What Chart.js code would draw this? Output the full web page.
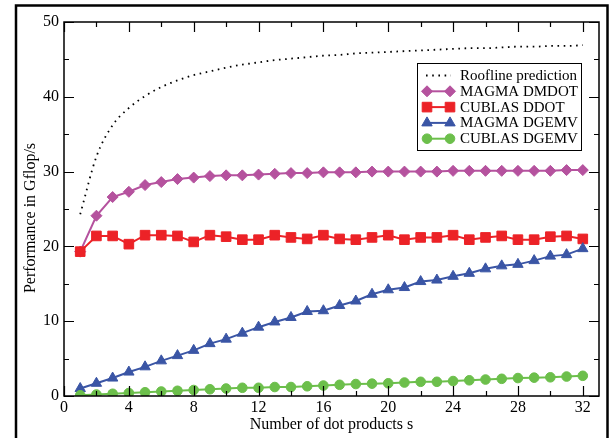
<!DOCTYPE html>
<html>
<head>
<meta charset="utf-8">
<script src="https://cdn.jsdelivr.net/npm/chart.js@4.4.0/dist/chart.umd.min.js"></script>
<style>
    body { margin: 0; background: #fff; }
    #wrap { width: 611px; height: 438px; }
</style>
</head>
<body>
<div id="wrap"><canvas id="perfChart" width="611" height="438"></canvas></div>
<script>
// --- DATA ---
const sCounts = [1, 2, 3, 4, 5, 6, 7, 8, 9, 10, 11, 12, 13, 14, 15, 16,
    17, 18, 19, 20, 21, 22, 23, 24, 25, 26, 27, 28, 29, 30, 31, 32];
const rooflinePerf = [24.3, 32.0, 36.2, 38.5, 40.1, 41.3, 42.2, 42.9, 43.4, 43.9, 44.3, 44.6, 44.9, 45.1, 45.3, 45.5,
    45.6, 45.8, 45.9, 46.0, 46.1, 46.2, 46.3, 46.4, 46.5, 46.5, 46.6, 46.7, 46.7, 46.8, 46.8, 46.9];
const magmaDmdot = [19.3, 24.1, 26.6, 27.3, 28.2, 28.6, 29.0, 29.2, 29.4, 29.5, 29.5, 29.6, 29.7, 29.8, 29.8, 29.9,
    29.9, 29.9, 30.0, 30.0, 30.0, 30.0, 30.0, 30.1, 30.1, 30.1, 30.1, 30.1, 30.1, 30.1, 30.2, 30.2];
const cublasDdot = [19.3, 21.4, 21.4, 20.3, 21.5, 21.5, 21.4, 20.6, 21.5, 21.3, 20.9, 20.9, 21.5, 21.2, 21.0, 21.5,
    21.0, 20.9, 21.2, 21.5, 20.9, 21.2, 21.2, 21.5, 20.9, 21.2, 21.4, 20.9, 20.9, 21.3, 21.4, 21.0];
const magmaDgemv = [1.0, 1.7, 2.4, 3.2, 3.9, 4.7, 5.4, 6.1, 7.0, 7.6, 8.4, 9.2, 9.9, 10.5, 11.3, 11.4,
    12.1, 12.7, 13.6, 14.2, 14.5, 15.3, 15.5, 16.0, 16.4, 17.0, 17.4, 17.6, 18.1, 18.7, 18.9, 19.7];
const cublasDgemv = [0.1, 0.2, 0.3, 0.4, 0.5, 0.6, 0.7, 0.8, 0.9, 1.0, 1.1, 1.1, 1.2, 1.2, 1.3, 1.4,
    1.5, 1.6, 1.65, 1.7, 1.8, 1.9, 1.9, 2.0, 2.1, 2.2, 2.3, 2.4, 2.45, 2.5, 2.6, 2.7];

const xTickValues = [0, 4, 8, 12, 16, 20, 24, 28, 32];
const xMinorTicks = [2, 6, 10, 14, 18, 22, 26, 30];
const yTickValues = [0, 10, 20, 30, 40, 50];
const yMinorTicks = [5, 15, 25, 35, 45];

const seriesNames = ['Roofline prediction', 'MAGMA DMDOT', 'CUBLAS DDOT', 'MAGMA DGEMV', 'CUBLAS DGEMV'];

const SERIF = "'Liberation Serif', 'Times New Roman', serif";

// --- HELPERS ---
function toPoints(values) {
    return values.map((v, i) => ({ x: sCounts[i], y: v }));
}

function markerSet(color, style, radius) {
    return {
        borderColor: color, backgroundColor: color,
        pointBackgroundColor: color, pointBorderColor: color,
        pointStyle: style, pointRadius: radius, pointBorderWidth: 1,
        borderWidth: 2
    };
}

// frame, inward ticks, axis titles, legend box
const figurePlugin = {
    id: 'figureDecor',
    beforeDraw(chart) {
        const ctx = chart.ctx;
        ctx.save();
        ctx.fillStyle = '#fff';
        ctx.fillRect(0, 0, chart.width, chart.height);
        ctx.strokeStyle = '#000';
        ctx.lineWidth = 2.5;
        ctx.strokeRect(16, 5.5, 591.5, 460);
        ctx.restore();
    },
    afterDatasetsDraw(chart) {
        const ctx = chart.ctx;
        const a = chart.chartArea;
        const xs = chart.scales.x, ys = chart.scales.y;
        ctx.save();
        ctx.strokeStyle = '#000';
        ctx.lineWidth = 1.5;
        ctx.strokeRect(a.left, a.top, a.right - a.left, a.bottom - a.top);

        ctx.lineWidth = 1.2;
        ctx.beginPath();
        const tickX = (v, len) => {
            const px = Math.round(xs.getPixelForValue(v)) + 0.5;
            ctx.moveTo(px, a.bottom); ctx.lineTo(px, a.bottom - len);
            ctx.moveTo(px, a.top); ctx.lineTo(px, a.top + len);
        };
        const tickY = (v, len) => {
            const py = Math.round(ys.getPixelForValue(v)) + 0.5;
            ctx.moveTo(a.left, py); ctx.lineTo(a.left + len, py);
            ctx.moveTo(a.right, py); ctx.lineTo(a.right - len, py);
        };
        xTickValues.forEach(v => tickX(v, 10));
        xMinorTicks.forEach(v => tickX(v, 5));
        yTickValues.forEach(v => tickY(v, 10));
        yMinorTicks.forEach(v => tickY(v, 5));
        ctx.stroke();

        // axis titles
        ctx.fillStyle = '#000';
        ctx.font = '16px ' + SERIF;
        ctx.textAlign = 'center';
        ctx.textBaseline = 'middle';
        ctx.fillText('Number of dot products s', (a.left + a.right) / 2, 425);
        ctx.translate(31, 218);
        ctx.rotate(-Math.PI / 2);
        ctx.fillText('Performance in Gflop/s', 0, 0);
        ctx.restore();

        // legend
        ctx.save();
        const lx = 417.5, ly = 63.5, lw = 164, lh = 87;
        ctx.fillStyle = '#fff';
        ctx.fillRect(lx, ly, lw, lh);
        ctx.strokeStyle = '#000';
        ctx.lineWidth = 1;
        ctx.strokeRect(lx, ly, lw, lh);
        ctx.font = '15px ' + SERIF;
        ctx.textAlign = 'left';
        ctx.textBaseline = 'middle';
        chart.data.datasets.forEach((ds, i) => {
            const y = 75.5 + i * 15.8;
            ctx.save();
            ctx.strokeStyle = ds.borderColor;
            ctx.lineWidth = ds.borderWidth;
            ctx.setLineDash(ds.borderDash || []);
            ctx.beginPath();
            ctx.moveTo(426, y); ctx.lineTo(451, y);
            ctx.stroke();
            ctx.restore();
            if (ds.pointRadius > 0) {
                ctx.fillStyle = ds.pointBackgroundColor;
                ctx.strokeStyle = ds.pointBorderColor;
                const opts = { pointStyle: ds.pointStyle, radius: ds.pointRadius, borderWidth: 1, rotation: 0 };
                Chart.helpers.drawPoint(ctx, opts, 427, y);
                Chart.helpers.drawPoint(ctx, opts, 450, y);
            }
            ctx.fillStyle = '#000';
            ctx.fillText(ds.label, 460, y + 0.5);
        });
        ctx.restore();
    }
};

// --- CHART ---
const ctx = document.getElementById('perfChart').getContext('2d');
new Chart(ctx, {
    type: 'line',
    data: {
        datasets: [
            {
                label: seriesNames[0], data: toPoints(rooflinePerf),
                borderColor: '#000', backgroundColor: '#000', borderWidth: 1.8,
                borderDash: [1.6, 4.6], pointRadius: 0, cubicInterpolationMode: 'monotone', order: 0
            },
            Object.assign({ label: seriesNames[1], data: toPoints(magmaDmdot), order: 4 }, markerSet('#b5529e', 'rectRot', 5.5)),
            Object.assign({ label: seriesNames[2], data: toPoints(cublasDdot), order: 3 }, markerSet('#ec2227', 'rect', 6.8)),
            Object.assign({ label: seriesNames[3], data: toPoints(magmaDgemv), order: 2 }, markerSet('#3a55a5', 'triangle', 6)),
            Object.assign({ label: seriesNames[4], data: toPoints(cublasDgemv), order: 1 }, markerSet('#6cbf4b', 'circle', 4.8))
        ]
    },
    options: {
        responsive: false,
        animation: false,
        layout: { padding: { left: 0, right: 12, top: 22, bottom: 0 } },
        plugins: { legend: { display: false }, tooltip: { enabled: false } },
        scales: {
            x: {
                type: 'linear', min: 0, max: 33,
                afterBuildTicks: s => { s.ticks = xTickValues.map(v => ({ value: v })); },
                afterFit: s => { s.height = 42; },
                grid: { display: false, drawTicks: false },
                border: { display: false },
                ticks: { color: '#000', padding: 2, maxRotation: 0, font: { family: SERIF, size: 16 } }
            },
            y: {
                type: 'linear', min: 0, max: 50,
                afterBuildTicks: s => { s.ticks = yTickValues.map(v => ({ value: v })); },
                afterFit: s => { s.width = 64; },
                grid: { display: false, drawTicks: false },
                border: { display: false },
                ticks: { color: '#000', padding: 5, font: { family: SERIF, size: 16 } }
            }
        }
    },
    plugins: [figurePlugin]
});
</script>
</body>
</html>
